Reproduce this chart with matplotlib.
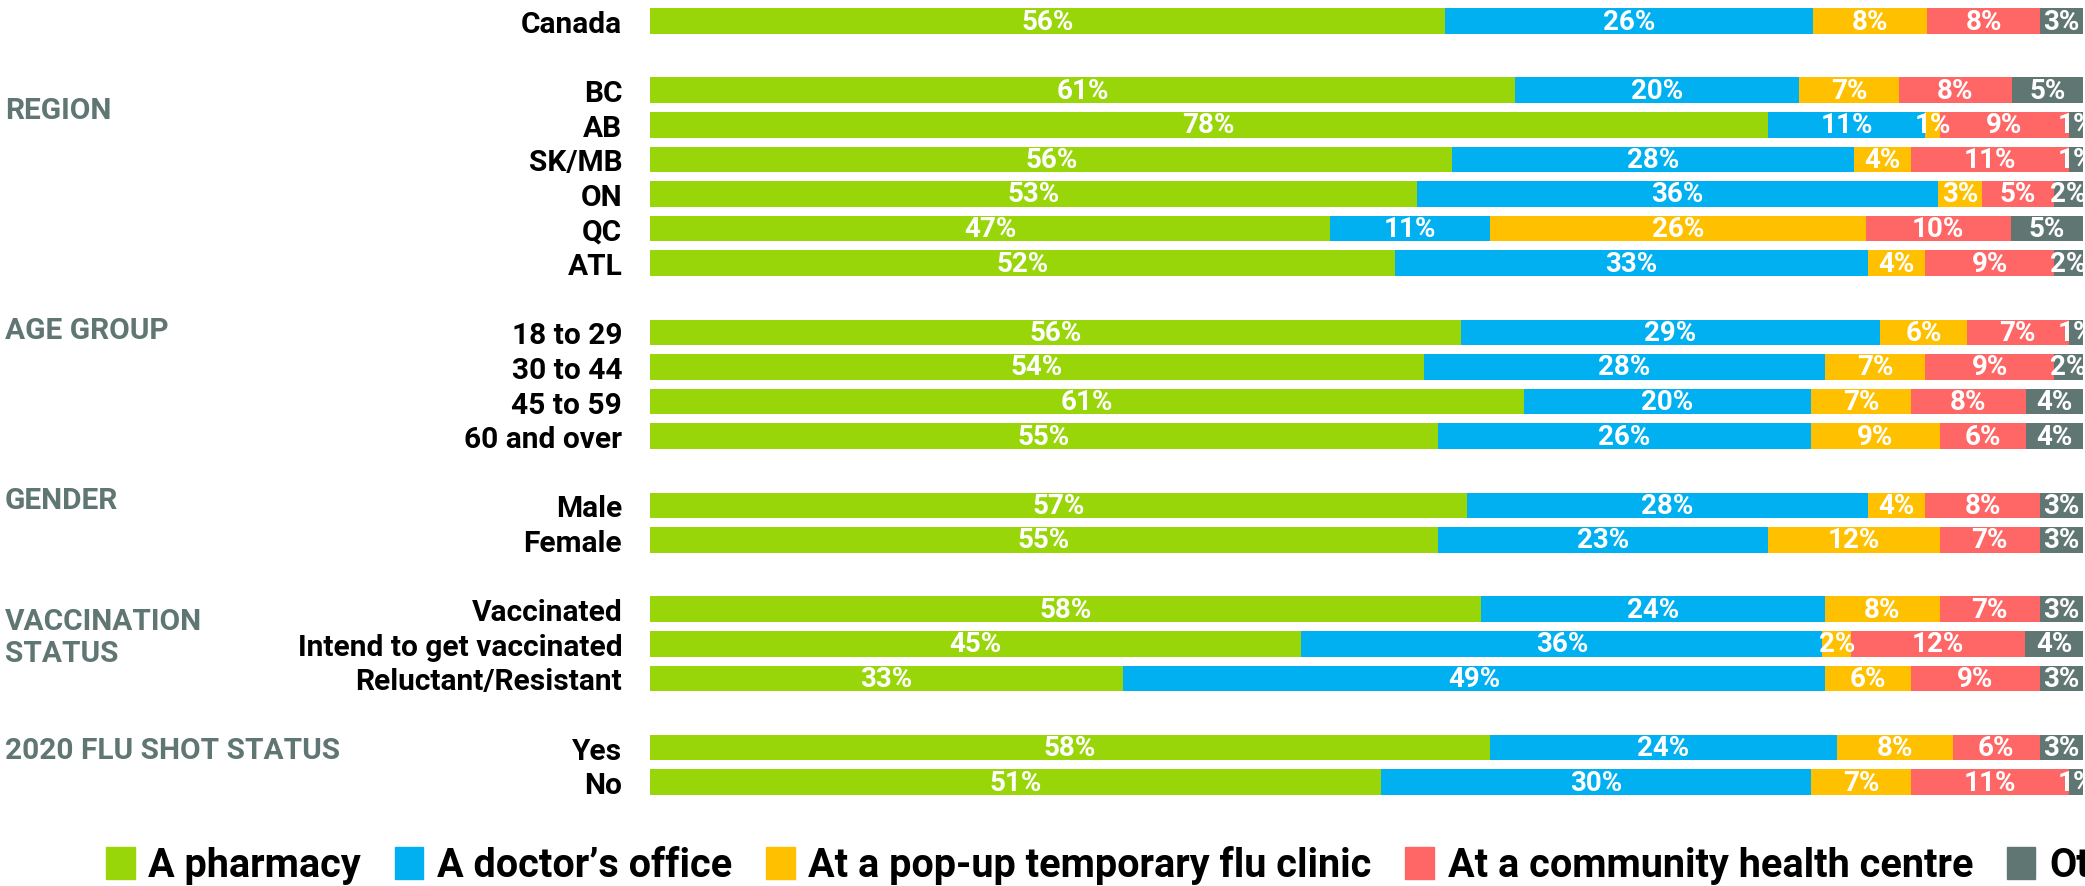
import matplotlib
matplotlib.use("Agg")
import matplotlib.pyplot as plt
import numpy as np
from matplotlib import transforms
from matplotlib.patches import Patch

plt.rcParams["font.family"] = ["Roboto", "DejaVu Sans"]
plt.rcParams["font.weight"] = "bold"

# rows of the chart, top to bottom
rows = ["Canada", "BC", "AB", "SK/MB", "ON", "QC", "ATL",
        "18 to 29", "30 to 44", "45 to 59", "60 and over",
        "Male", "Female",
        "Vaccinated", "Intend to get vaccinated", "Reluctant/Resistant",
        "Yes", "No"]
group_sizes = [1, 6, 4, 2, 3, 2]
group_names = ["", "REGION", "AGE GROUP", "GENDER", "VACCINATION\nSTATUS", "2020 FLU SHOT STATUS"]

series_names = ["A pharmacy", "A doctor\u2019s office", "At a pop-up temporary flu clinic",
                "At a community health centre", "Other"]
pharmacy = [56, 61, 78, 56, 53, 47, 52, 56, 54, 61, 55, 57, 55, 58, 45, 33, 58, 51]
doctor = [26, 20, 11, 28, 36, 11, 33, 29, 28, 20, 26, 28, 23, 24, 36, 49, 24, 30]
popup = [8, 7, 1, 4, 3, 26, 4, 6, 7, 7, 9, 4, 12, 8, 2, 6, 8, 7]
community = [8, 8, 9, 11, 5, 10, 9, 7, 9, 8, 6, 8, 7, 7, 12, 9, 6, 11]
other = [3, 5, 1, 1, 2, 5, 2, 1, 2, 4, 4, 3, 3, 3, 4, 3, 3, 1]

colors = ["#98D60A", "#00B0F0", "#FFC000", "#FF6666", "#5F7672"]
group_color = "#5F7672"
# where the group title sits, in rows, relative to the first row of its group
group_offsets = [0, 0.57, -0.07, -0.16, 0.8, 0.07]

# row positions with one empty row between groups
ypos = []
group_first = []
pos = 0
for size in group_sizes:
    group_first.append(pos)
    ypos.extend(range(pos, pos + size))
    pos += size + 1
ypos = np.array(ypos)

vals = np.array([pharmacy, doctor, popup, community, other], dtype=float)
shares = vals / vals.sum(axis=0) * 100  # rounded values don't always add to 100

W, H = 2085, 887
fig = plt.figure(figsize=(W / 100, H / 100), dpi=100)
ax = fig.add_axes([650 / W, 1 - 800.5 / H, 1433 / W, (800.5 - 4.7) / H])

left = np.zeros(len(rows))
for k in range(5):
    ax.barh(ypos, shares[k], left=left, height=0.74, color=colors[k], linewidth=0)
    for i in range(len(rows)):
        ax.text(left[i] + shares[k][i] / 2, ypos[i], f"{int(vals[k][i])}%",
                ha="center", va="center", color="white", fontsize=20, fontweight="bold")
    left += shares[k]

ax.set_xlim(0, 100)
ax.set_ylim(22.5, -0.5)
ax.set_xticks([])
ax.set_yticks(ypos, rows)
ax.tick_params(axis="y", length=0, pad=20, labelsize=21.5)
for s in ax.spines.values():
    s.set_visible(False)

trans = transforms.blended_transform_factory(fig.transFigure, ax.transData)
for name, first, off in zip(group_names, group_first, group_offsets):
    if name:
        ax.text(5 / W, first + off, name, transform=trans, ha="left", va="center",
                color=group_color, fontsize=21.5, fontweight="bold", linespacing=1.15)

handles = [Patch(color=c) for c in colors]
fig.legend(handles, series_names, loc="center left", bbox_to_anchor=(106 / W, 1 - 866 / H),
           ncol=5, frameon=False, prop={"size": 28.5, "weight": "bold"},
           handlelength=0.72, handleheight=0.85, handletextpad=0.35,
           columnspacing=0.85, borderpad=0, borderaxespad=0)

fig.savefig("out.png", dpi=100)
